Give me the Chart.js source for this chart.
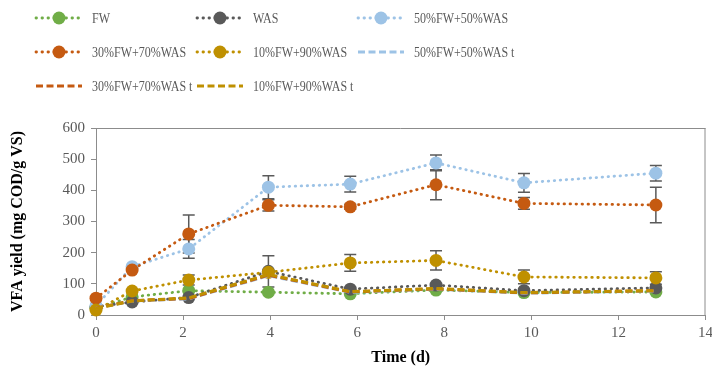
<!DOCTYPE html>
<html><head><meta charset="utf-8">
<script src="https://cdn.jsdelivr.net/npm/chart.js@4.4.1/dist/chart.umd.min.js"></script>
<style>html,body{margin:0;padding:0;background:#fff}#wrap{width:712px;height:372px;position:relative}</style>
</head><body><div id="wrap"><canvas id="c" width="712" height="372"></canvas></div>
<script>
// ---- data ----
const timeDays = [0, 0.83, 2.13, 3.96, 5.84, 7.81, 9.83, 12.86];
const fwVFA = [22, 58, 78, 73, 68, 80, 72, 74];
const wasVFA = [26, 42, 56, 140, 83, 96, 78, 87];
const mix50VFA = [30, 155, 212, 410, 420, 488, 424, 455];
const mix30VFA = [54, 144, 260, 352, 347, 418, 358, 353];
const mix10VFA = [16, 77, 112, 137, 167, 175, 122, 119];
const mix50Theo = [22, 45, 52, 126, 73, 83, 70, 77];
const mix30Theo = [22, 46, 53, 128, 74, 84, 71, 78];
const mix10Theo = [21, 45, 55, 130, 75, 85, 72, 78];
const wasErr = [0, 0, 0, 50, 0, 0, 0, 0];
const mix50Err = [0, 0, 30, 37, 25, 25, 30, 25];
const mix30Err = [0, 0, 61, 18, 8, 48, 19, 57];
const mix10Err = [0, 0, 16, 0, 27, 31, 22, 20];
const seriesNames = ['FW', 'WAS', '50%FW+50%WAS', '30%FW+70%WAS', '10%FW+90%WAS', '50%FW+50%WAS t', '30%FW+70%WAS t', '10%FW+90%WAS t'];
const xTicks = [0, 2, 4, 6, 8, 10, 12, 14];
const yTicks = [0, 100, 200, 300, 400, 500, 600];

const GREEN = '#70AD47', DARK = '#595959', BLUE = '#9DC3E6', ORANGE = '#C55A11', GOLD = '#BF9000';
const DOT = [0.5, 5.5], DASH = [7, 3.5];
const pts = arr => arr.map((v, i) => ({x: timeDays[i], y: v}));

function marked(label, data, color, order, err) {
  return {label, data: pts(data), errors: err, showLine: true, borderColor: color, backgroundColor: color,
    borderWidth: 2.8, borderDash: DOT, borderCapStyle: 'round', pointRadius: 6.5, pointBorderWidth: 0,
    pointBackgroundColor: color, pointHoverRadius: 6.5, order, clip: false, tension: 0, legendMarker: true};
}
function dashed(label, data, color, order) {
  return {label, data: pts(data), showLine: true, borderColor: color, backgroundColor: color,
    borderWidth: 3, borderDash: DASH, borderCapStyle: 'butt', pointRadius: 0, order, clip: false, tension: 0, legendMarker: false};
}
const datasets = [
  marked(seriesNames[0], fwVFA, GREEN, 8, null),
  marked(seriesNames[1], wasVFA, DARK, 7, wasErr),
  marked(seriesNames[2], mix50VFA, BLUE, 6, mix50Err),
  marked(seriesNames[3], mix30VFA, ORANGE, 5, mix30Err),
  marked(seriesNames[4], mix10VFA, GOLD, 4, mix10Err),
  dashed(seriesNames[5], mix50Theo, BLUE, 3),
  dashed(seriesNames[6], mix30Theo, ORANGE, 2),
  dashed(seriesNames[7], mix10Theo, GOLD, 1)
];

const AXIS = '#8C8C8C';
const errorBars = {
  id: 'errorBars',
  beforeDatasetsDraw(chart) {
    const ctx = chart.ctx, xs = chart.scales.x, ys = chart.scales.y;
    ctx.save();
    ctx.strokeStyle = '#5A5A5A'; ctx.lineWidth = 1.5; ctx.setLineDash([]);
    chart.data.datasets.forEach(ds => {
      if (!ds.errors) return;
      ds.data.forEach((p, i) => {
        const e = ds.errors[i]; if (!e) return;
        const px = xs.getPixelForValue(p.x);
        const y1 = ys.getPixelForValue(p.y + e), y2 = ys.getPixelForValue(p.y - e);
        ctx.beginPath();
        ctx.moveTo(px, y1); ctx.lineTo(px, y2);
        ctx.moveTo(px - 6, y1); ctx.lineTo(px + 6, y1);
        ctx.moveTo(px - 6, y2); ctx.lineTo(px + 6, y2);
        ctx.stroke();
      });
    });
    ctx.restore();
  },
  afterDatasetsDraw(chart) {
    const a = chart.chartArea, ctx = chart.ctx;
    ctx.save(); ctx.strokeStyle = AXIS; ctx.lineWidth = 1; ctx.setLineDash([]);
    ctx.beginPath();
    ctx.moveTo(a.left, a.top + 0.5); ctx.lineTo(a.right, a.top + 0.5);
    ctx.moveTo(a.right - 0.5, a.top); ctx.lineTo(a.right - 0.5, a.bottom);
    ctx.stroke(); ctx.restore();
  }
};

const legendLayout = {cols: [36, 197, 358], rows: [18, 52, 86], len: 46, textGap: 56};
const customLegend = {
  id: 'customLegend',
  afterDraw(chart) {
    const ctx = chart.ctx;
    ctx.save();
    chart.data.datasets.forEach((ds, i) => {
      const col = i % 3, row = Math.floor(i / 3);
      const x0 = legendLayout.cols[col], y = legendLayout.rows[row];
      ctx.strokeStyle = ds.borderColor; ctx.lineWidth = ds.borderWidth;
      ctx.lineCap = ds.borderCapStyle; ctx.setLineDash(ds.borderDash);
      ctx.beginPath(); ctx.moveTo(x0, y); ctx.lineTo(x0 + legendLayout.len, y); ctx.stroke();
      ctx.setLineDash([]);
      if (ds.legendMarker) {
        ctx.fillStyle = ds.backgroundColor;
        ctx.beginPath(); ctx.arc(x0 + legendLayout.len / 2, y, 6.5, 0, Math.PI * 2); ctx.fill();
      }
      ctx.save();
      ctx.translate(x0 + legendLayout.textGap, y);
      ctx.scale(0.8, 1);
      ctx.fillStyle = '#595959';
      ctx.font = '15px "Liberation Serif", "Times New Roman", serif';
      ctx.textBaseline = 'middle'; ctx.textAlign = 'left';
      ctx.fillText(ds.label, 0, 1);
      ctx.restore();
    });
    ctx.restore();
  }
};

new Chart(document.getElementById('c'), {
  type: 'scatter',
  data: {datasets},
  plugins: [errorBars, customLegend],
  options: {
    responsive: false, animation: false,
    layout: {padding: {top: 128, right: 5, bottom: 5, left: 0}},
    plugins: {legend: {display: false}, tooltip: {enabled: false}},
    scales: {
      x: {
        type: 'linear', min: 0, max: 14,
        afterBuildTicks: s => { s.ticks = xTicks.map(v => ({value: v})); },
        afterFit: s => { s.height = 52; s.paddingLeft = 0; s.paddingRight = 0; },
        grid: {drawOnChartArea: false, drawTicks: true, tickLength: 5, color: AXIS},
        border: {display: true, color: AXIS, width: 1},
        ticks: {color: '#595959', padding: 4, maxRotation: 0, font: {family: '"Liberation Serif", "Times New Roman", serif', size: 15}},
        title: {display: true, text: 'Time (d)', color: '#000', padding: {top: 0, bottom: 0},
          font: {family: '"Liberation Serif", "Times New Roman", serif', size: 16, weight: 'bold'}}
      },
      y: {
        type: 'linear', min: 0, max: 600,
        afterBuildTicks: s => { s.ticks = yTicks.map(v => ({value: v})); },
        afterFit: s => { s.width = 96; s.paddingTop = 0; s.paddingBottom = 0; },
        grid: {drawOnChartArea: false, drawTicks: true, tickLength: 5, color: AXIS},
        border: {display: true, color: AXIS, width: 1},
        ticks: {color: '#595959', padding: 6, font: {family: '"Liberation Serif", "Times New Roman", serif', size: 15}},
        title: {display: true, text: 'VFA yield (mg COD/g VS)', color: '#000', padding: {top: 8, bottom: 0},
          font: {family: '"Liberation Serif", "Times New Roman", serif', size: 16, weight: 'bold'}}
      }
    }
  }
});
</script></body></html>
